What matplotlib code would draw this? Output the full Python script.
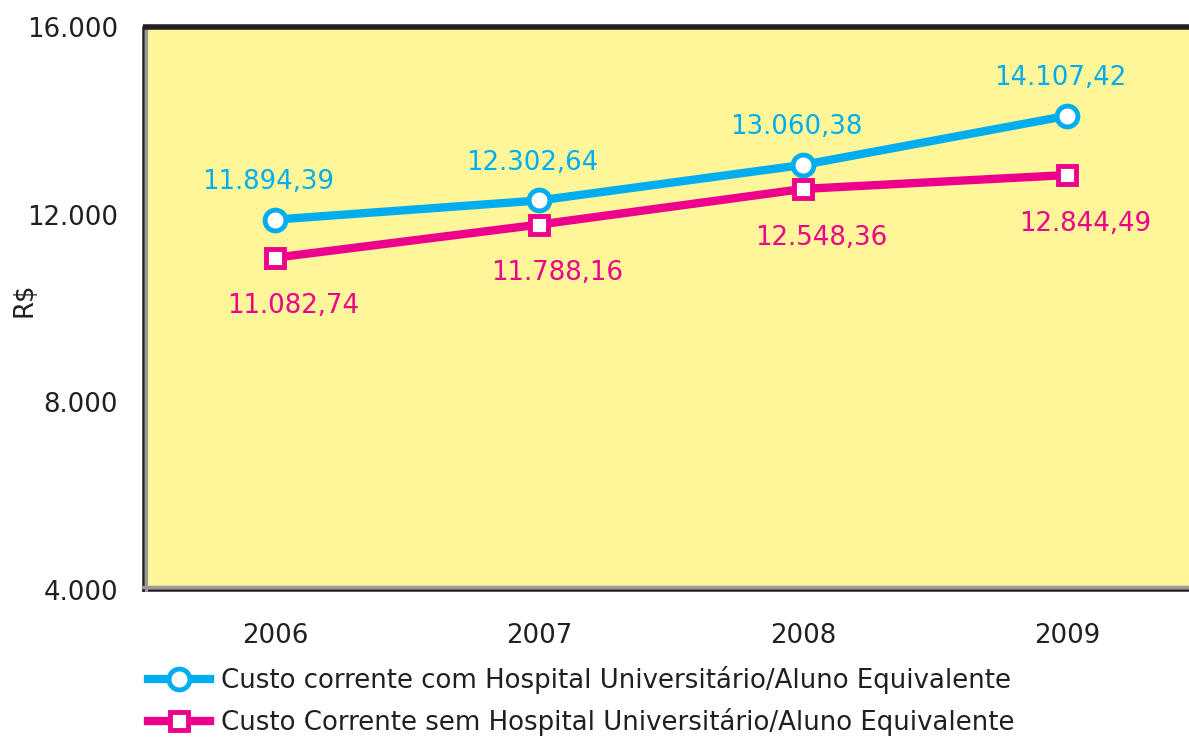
import matplotlib.pyplot as plt
from matplotlib.lines import Line2D

anos = ["2006", "2007", "2008", "2009"]
com_hu = [11894.39, 12302.64, 13060.38, 14107.42]
sem_hu = [11082.74, 11788.16, 12548.36, 12844.49]
y_ticks = [4000, 8000, 12000, 16000]
nome_com = "Custo corrente com Hospital Universitário/Aluno Equivalente"
nome_sem = "Custo Corrente sem Hospital Universitário/Aluno Equivalente"

AZUL = "#00AEEF"
ROSA = "#EC008C"
TEXTO = "#231F20"
FUNDO = "#FFF599"
FS = 18.7


def br(v, dec=2):
    s = f"{v:,.{dec}f}"
    return s.replace(",", "X").replace(".", ",").replace("X", ".")


plt.rcParams['font.family'] = ['DejaVu Sans']
fig = plt.figure(figsize=(11.89, 7.40), dpi=100)
# axes runs slightly past the right edge, as in the original
ax = fig.add_axes([143 / 1189, 1 - 590 / 740, (1199 - 143) / 1189, (590 - 27) / 740])
ax.set_facecolor(FUNDO)

x = list(range(len(anos)))
ax.plot(x, com_hu, color=AZUL, lw=6, marker='o', ms=15, mfc='white',
        mec=AZUL, mew=3.5, zorder=3)
ax.plot(x, sem_hu, color=ROSA, lw=6, marker='s', ms=12.5, mfc='white',
        mec=ROSA, mew=3.5, zorder=3)

for xi, v in zip(x, com_hu):
    ax.annotate(br(v), (xi, v), xytext=(-5, 27), textcoords='offset points',
                ha='center', va='center', color=AZUL, fontsize=FS)
for xi, v in zip(x, sem_hu):
    ax.annotate(br(v), (xi, v), xytext=(13, -35), textcoords='offset points',
                ha='center', va='center', color=ROSA, fontsize=FS)

ax.set_xlim(-0.5, 3.5)
ax.set_ylim(4000, 16000)
ax.set_xticks(x)
ax.set_xticklabels(anos)
ax.set_yticks(y_ticks)
ax.set_yticklabels([br(t, 0) for t in y_ticks])
ax.tick_params(length=0, labelsize=FS, colors=TEXTO)
ax.tick_params(axis='y', pad=18)
ax.tick_params(axis='x', pad=24)
fig.text(25 / 1189, 1 - 300 / 740, "R$", rotation=90, fontsize=FS,
         color=TEXTO, ha='center', va='center')

# frame: dark outline with grey inner shadow on left and bottom
for s in ['top', 'right']:
    ax.spines[s].set_visible(False)
for s in ['left', 'bottom']:
    ax.spines[s].set_color(TEXTO)
    ax.spines[s].set_linewidth(1.8)
ax.plot([0, 1], [1, 1], transform=ax.transAxes, color=TEXTO, lw=4,
        solid_capstyle='butt', clip_on=False, zorder=5)
ax.plot([0.0025, 0.0025], [0, 1], transform=ax.transAxes, color='#999999',
        lw=2.2, clip_on=False, zorder=4)
ax.plot([0, 1], [0.006, 0.006], transform=ax.transAxes, color='#999999',
        lw=2.5, clip_on=False, zorder=4)

handles = [
    Line2D([], [], color=AZUL, lw=6, marker='o', ms=15, mfc='white', mec=AZUL, mew=3.5),
    Line2D([], [], color=ROSA, lw=6, marker='s', ms=12.5, mfc='white', mec=ROSA, mew=3.5),
]
fig.legend(handles, [nome_com, nome_sem], loc='upper left',
           bbox_to_anchor=(148 / 1189, 1 - 666 / 740), frameon=False,
           fontsize=FS, labelcolor=TEXTO, handlelength=2.4, handletextpad=0.4,
           labelspacing=0.55, borderaxespad=0, borderpad=0)

fig.savefig("out.png", dpi=100)
